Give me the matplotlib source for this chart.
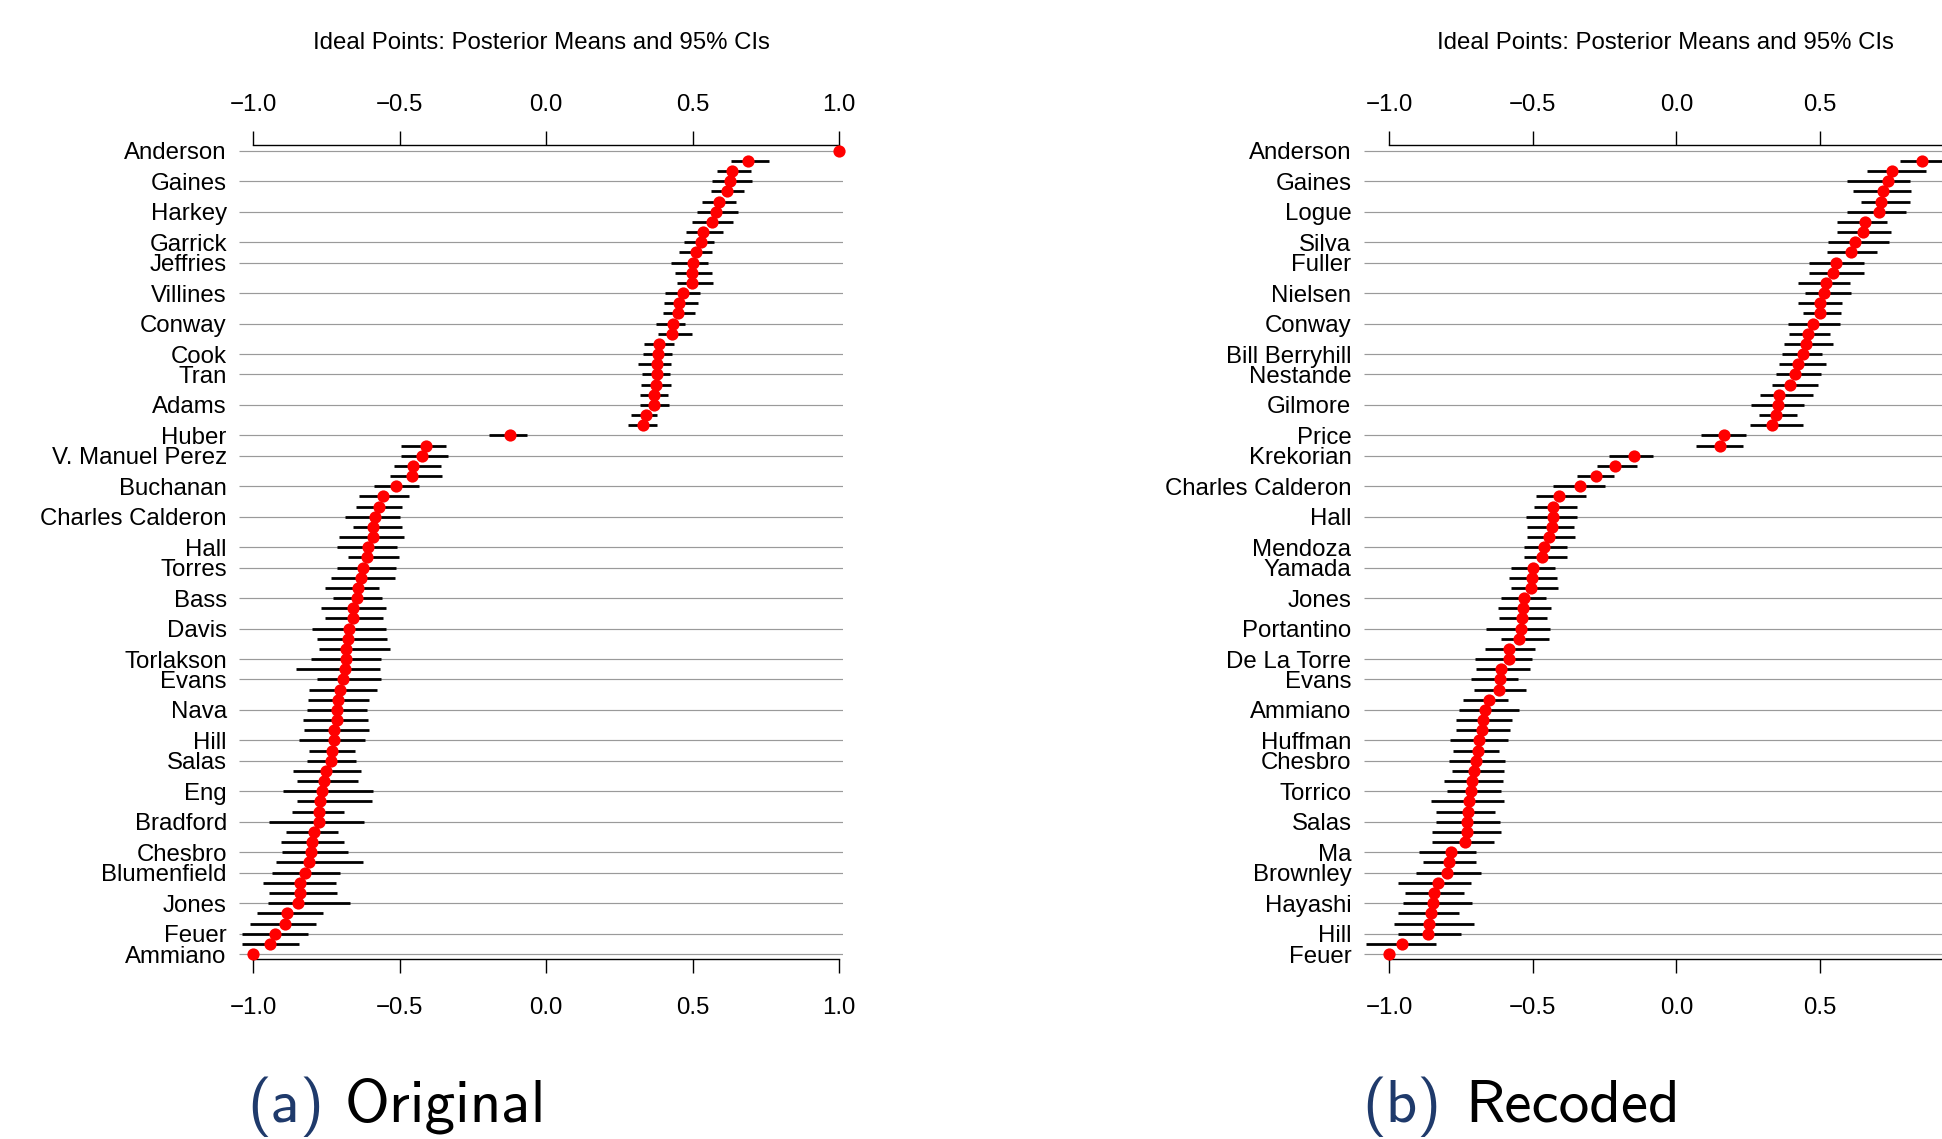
import numpy as np
import matplotlib
matplotlib.use("Agg")
import matplotlib.pyplot as plt

nan = np.nan

# ---------------- data ----------------
label_rows = [0, 3, 6, 9, 11, 14, 17, 20, 22, 25, 28, 30, 33, 36, 39, 41, 44, 47,
              50, 52, 55, 58, 60, 63, 66, 69, 71, 74, 77, 79]

labels_a = ["Anderson", "Gaines", "Harkey", "Garrick", "Jeffries", "Villines", "Conway",
            "Cook", "Tran", "Adams", "Huber", "V. Manuel Perez", "Buchanan",
            "Charles Calderon", "Hall", "Torres", "Bass", "Davis", "Torlakson", "Evans",
            "Nava", "Hill", "Salas", "Eng", "Bradford", "Chesbro", "Blumenfield", "Jones",
            "Feuer", "Ammiano"]

labels_b = ["Anderson", "Gaines", "Logue", "Silva", "Fuller", "Nielsen", "Conway",
            "Bill Berryhill", "Nestande", "Gilmore", "Price", "Krekorian",
            "Charles Calderon", "Hall", "Mendoza", "Yamada", "Jones", "Portantino",
            "De La Torre", "Evans", "Ammiano", "Huffman", "Chesbro", "Torrico", "Salas",
            "Ma", "Brownley", "Hayashi", "Hill", "Feuer"]

mean_a = [1.000, 0.688, 0.633, 0.627, 0.616, 0.591, 0.580, 0.565, 0.536, 0.530,
          0.511, 0.502, 0.499, 0.497, 0.467, 0.454, 0.449, 0.434, 0.428, 0.385,
          0.382, 0.379, 0.377, 0.374, 0.368, 0.367, 0.340, 0.330, -0.124, -0.411,
          -0.424, -0.453, -0.457, -0.511, -0.556, -0.571, -0.585, -0.590, -0.592, -0.607,
          -0.613, -0.624, -0.631, -0.642, -0.646, -0.659, -0.659, -0.672, -0.676, -0.682,
          -0.683, -0.687, -0.695, -0.704, -0.711, -0.713, -0.715, -0.724, -0.725, -0.732,
          -0.736, -0.752, -0.758, -0.764, -0.771, -0.774, -0.775, -0.794, -0.799, -0.803,
          -0.810, -0.822, -0.839, -0.840, -0.848, -0.884, -0.890, -0.926, -0.942, -1.000]

lower_a = [nan, 0.631, 0.582, 0.565, 0.562, 0.533, 0.515, 0.497, 0.477, 0.472,
           0.453, 0.426, 0.440, 0.445, 0.405, 0.401, 0.400, 0.376, 0.381, 0.334,
           0.329, 0.313, 0.328, 0.324, 0.319, 0.320, 0.289, 0.280, -0.194, -0.497,
           -0.494, -0.519, -0.532, -0.587, -0.640, -0.650, -0.685, -0.659, -0.708, -0.715,
           -0.677, -0.713, -0.736, -0.754, -0.729, -0.769, -0.756, -0.798, -0.781, -0.777,
           -0.803, -0.853, -0.783, -0.808, -0.812, -0.816, -0.831, -0.826, -0.844, -0.808,
           -0.815, -0.865, -0.852, -0.897, -0.849, -0.866, -0.945, -0.889, -0.905, -0.901,
           -0.923, -0.935, -0.968, -0.946, -0.950, -0.988, -1.011, -1.039, -1.037, nan]

upper_a = [nan, 0.761, 0.698, 0.702, 0.674, 0.649, 0.656, 0.638, 0.604, 0.572,
           0.567, 0.552, 0.565, 0.568, 0.524, 0.518, 0.507, 0.475, 0.498, 0.437,
           0.431, 0.425, 0.421, 0.425, 0.417, 0.420, 0.377, 0.377, -0.067, -0.342,
           -0.335, -0.358, -0.357, -0.435, -0.468, -0.493, -0.499, -0.491, -0.485, -0.509,
           -0.501, -0.513, -0.516, -0.570, -0.559, -0.547, -0.558, -0.548, -0.542, -0.534,
           -0.564, -0.567, -0.564, -0.576, -0.605, -0.610, -0.609, -0.605, -0.618, -0.651,
           -0.650, -0.632, -0.642, -0.591, -0.595, -0.689, -0.622, -0.712, -0.689, -0.677,
           -0.624, -0.705, -0.717, -0.715, -0.669, -0.763, -0.786, -0.814, -0.845, nan]

mean_b = [1.000, 0.856, 0.749, 0.735, 0.720, 0.711, 0.704, 0.657, 0.650, 0.623,
          0.609, 0.555, 0.545, 0.519, 0.515, 0.499, 0.498, 0.475, 0.459, 0.450,
          0.441, 0.423, 0.414, 0.396, 0.356, 0.352, 0.346, 0.331, 0.166, 0.152,
          -0.148, -0.213, -0.279, -0.337, -0.409, -0.429, -0.430, -0.433, -0.444, -0.460,
          -0.467, -0.499, -0.501, -0.506, -0.530, -0.535, -0.537, -0.540, -0.547, -0.581,
          -0.584, -0.610, -0.613, -0.618, -0.653, -0.666, -0.674, -0.676, -0.688, -0.691,
          -0.699, -0.703, -0.711, -0.716, -0.720, -0.726, -0.728, -0.729, -0.735, -0.786,
          -0.792, -0.798, -0.830, -0.844, -0.848, -0.855, -0.862, -0.866, -0.956, -1.000]

lower_b = [nan, 0.778, 0.662, 0.595, 0.616, 0.642, 0.595, 0.557, 0.559, 0.528,
           0.523, 0.462, 0.461, 0.422, 0.446, 0.422, 0.439, 0.388, 0.393, 0.375,
           0.368, 0.357, 0.346, 0.334, 0.290, 0.259, 0.289, 0.255, 0.087, 0.068,
           -0.235, -0.276, -0.347, -0.429, -0.489, -0.497, -0.523, -0.519, -0.519, -0.529,
           -0.530, -0.576, -0.582, -0.577, -0.611, -0.622, -0.618, -0.663, -0.612, -0.667,
           -0.702, -0.698, -0.715, -0.703, -0.743, -0.757, -0.767, -0.768, -0.788, -0.779,
           -0.790, -0.781, -0.809, -0.797, -0.855, -0.838, -0.838, -0.849, -0.850, -0.896,
           -0.880, -0.906, -0.968, -0.944, -0.952, -0.970, -0.983, -0.970, -1.080, nan]

upper_b = [nan, 0.930, 0.869, 0.811, 0.817, 0.814, 0.798, 0.734, 0.745, 0.741,
           0.698, 0.651, 0.652, 0.603, 0.607, 0.575, 0.574, 0.568, 0.534, 0.544,
           0.507, 0.521, 0.504, 0.491, 0.476, 0.443, 0.421, 0.440, 0.242, 0.230,
           -0.083, -0.137, -0.216, -0.248, -0.315, -0.347, -0.347, -0.357, -0.352, -0.379,
           -0.382, -0.423, -0.417, -0.412, -0.455, -0.436, -0.452, -0.441, -0.443, -0.492,
           -0.503, -0.511, -0.551, -0.525, -0.587, -0.549, -0.571, -0.578, -0.587, -0.616,
           -0.597, -0.600, -0.602, -0.611, -0.601, -0.631, -0.615, -0.609, -0.636, -0.697,
           -0.699, -0.680, -0.716, -0.739, -0.711, -0.755, -0.705, -0.749, -0.835, nan]

x_ticks = [-1.0, -0.5, 0.0, 0.5, 1.0]
title = "Ideal Points: Posterior Means and 95% CIs"

# ---------------- layout ----------------
W, H = 1942, 1139
DPI = 100
PT = DPI / 72.0  # pixels per point

plt.rcParams['font.family'] = ['Liberation Sans', 'DejaVu Sans']
FS = 24 / PT  # font size in points (24 px)

fig = plt.figure(figsize=(W / DPI, H / DPI), dpi=DPI)
fig.patch.set_facecolor('white')


def fmt(t):
    return f"{t:.1f}".replace('-', '\u2212')


def draw_panel(left_px, xlim, names, means, lows, highs):
    top_px, bot_px, width_px = 145.0, 959.0, 603.3
    ax = fig.add_axes([left_px / W, 1 - bot_px / H, width_px / W, (bot_px - top_px) / H])
    ax.set_facecolor('none')
    n = len(means)
    rows = np.arange(n)
    ax.set_xlim(*xlim)
    ax.set_ylim(n - 0.51, -0.56)
    # gridlines at labelled rows
    ax.hlines(label_rows, xlim[0], xlim[1], colors='#9a9a9a', linewidth=0.85, zorder=1)
    # credible intervals
    ax.hlines(rows, lows, highs, colors='black', linewidth=2.0, capstyle='butt', zorder=2)
    # posterior means
    ax.plot(means, rows, 'o', color='#ff0000', markersize=8.8, markeredgewidth=0,
            zorder=3, clip_on=False)

    # tick labels only where they fall inside the figure
    def visible_labels():
        out = []
        for t in x_ticks:
            xp = left_px + (t - xlim[0]) / (xlim[1] - xlim[0]) * width_px
            out.append(fmt(t) if xp + 18 < W else '')
        return out

    # bottom axis
    for s in ['left', 'right', 'top']:
        ax.spines[s].set_visible(False)
    ax.spines['bottom'].set_bounds(-1, 1)
    ax.spines['bottom'].set_linewidth(1.0)
    ax.set_xticks(x_ticks)
    ax.set_xticklabels(visible_labels())
    ax.tick_params(axis='x', top=False, labeltop=False, bottom=True, labelbottom=True,
                   length=14 / PT, width=1.0, direction='out', labelsize=FS, pad=17.6)

    # top axis
    sec = ax.secondary_xaxis('top')
    sec.spines['top'].set_bounds(-1, 1)
    sec.spines['top'].set_linewidth(1.0)
    sec.set_xticks(x_ticks)
    sec.set_xticklabels(visible_labels())
    sec.tick_params(axis='x', length=14 / PT, width=1.0, direction='out', labelsize=FS,
                    pad=11.0)

    ax.set_yticks(label_rows)
    ax.set_yticklabels(names)
    ax.tick_params(axis='y', length=0, labelsize=FS, pad=12.6 / PT)
    cx = left_px + width_px / 2
    fig.text(cx / W, 1 - 43.3 / H, title, ha='center', va='center', fontsize=FS)
    return ax


draw_panel(239.4, (-1.047, 1.012), labels_a, mean_a, lower_a, upper_a)
draw_panel(1364.0, (-1.087, 1.012), labels_b, mean_b, lower_b, upper_b)

# ---------------- captions ----------------
CAP_FS = 44
BLUE = '#1f3a6b'
base_y = 1 - 1121.7 / H
fig.text(247.0 / W, base_y, "(a)", color=BLUE, fontsize=CAP_FS, family='cmss10',
         ha='left', va='baseline')
fig.text(345.0 / W, base_y, "Original", color='black', fontsize=CAP_FS, family='cmss10',
         ha='left', va='baseline')
fig.text(1362.0 / W, base_y, "(b)", color=BLUE, fontsize=CAP_FS, family='cmss10',
         ha='left', va='baseline')
fig.text(1465.0 / W, base_y, "Recoded", color='black', fontsize=CAP_FS, family='cmss10',
         ha='left', va='baseline')

fig.savefig("out.png", dpi=DPI, facecolor='white')
